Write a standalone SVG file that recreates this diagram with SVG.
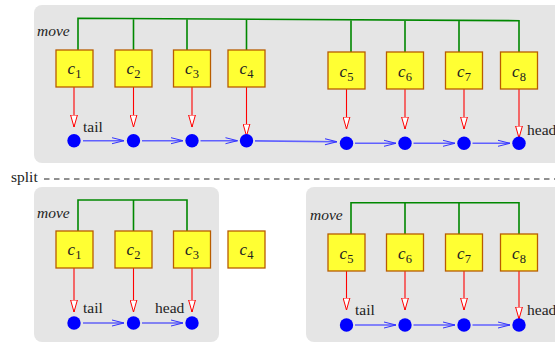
<svg xmlns="http://www.w3.org/2000/svg" width="555" height="344" viewBox="0 0 555 344">
<defs>
<marker id="ra" markerUnits="userSpaceOnUse" viewBox="0 0 13 8" refX="12.5" refY="4" markerWidth="13" markerHeight="8" orient="auto">
<path d="M0.5,0.6 L12.5,4 L0.5,7.4 Z" fill="#fff" stroke="#ff0000" stroke-width="1"/>
</marker>
<marker id="ba" markerUnits="userSpaceOnUse" viewBox="0 0 13 8" refX="12.5" refY="4" markerWidth="13" markerHeight="8" orient="auto">
<path d="M0.5,1 L12.5,4 L0.5,7" fill="none" stroke="#3333ff" stroke-width="1"/>
</marker>
<style>
.panel{fill:#e5e5e5}
.bus{fill:none;stroke:#008800;stroke-width:1.6}
.box{fill:#ffff33;stroke:#b85c00;stroke-width:1.3}
.red{stroke:#ff0000;stroke-width:1.1;fill:none;marker-end:url(#ra)}
.blue{stroke:#6060ff;stroke-width:1.6;fill:none;marker-end:url(#ba)}
.dot{fill:#0000ff}
.t{font-family:"Liberation Serif","Times New Roman","DejaVu Serif",serif;font-size:15.5px;fill:#222}
.it{font-style:italic}
.lbl{font-family:"Liberation Serif","Times New Roman","DejaVu Serif",serif;font-size:17px;fill:#222;text-anchor:middle}
.sub{font-size:12.5px;font-style:normal}
</style>
</defs>

<rect class="panel" x="34" y="5" width="545" height="158" rx="8"/>
<rect class="panel" x="34" y="187" width="185" height="155" rx="8"/>
<rect class="panel" x="306" y="187" width="270" height="155" rx="8"/>

<text class="t it" x="37" y="36">move</text>
<text class="t it" x="37" y="218">move</text>
<text class="t it" x="310" y="220">move</text>
<text class="t" x="11" y="182">split</text>
<line x1="44" y1="179" x2="555" y2="179" stroke="#222" stroke-width="1" stroke-dasharray="5.5,4.5"/>

<g id="connectors">
<path class="bus" d="M78,50 V18.3 L519,20.7 V52 M133.5,18.6 V50 M187,18.9 V50 M246.5,19.2 V50 M351,19.8 V52 M405,20.1 V52 M459,20.4 V52"/>
<path class="bus" d="M78,231 V200 H187 V231 M133.5,200 V231"/>
<path class="bus" d="M351,234 V202.7 H519 V234 M405,202.7 V234 M459,202.7 V234"/>

<line class="red" x1="74" y1="87" x2="74" y2="127"/>
<line class="red" x1="133.5" y1="87" x2="133.5" y2="127"/>
<line class="red" x1="192" y1="87" x2="192" y2="127"/>
<line class="red" x1="246.5" y1="87" x2="246.5" y2="136"/>
<line class="red" x1="346.5" y1="89" x2="346.5" y2="129"/>
<line class="red" x1="405" y1="89" x2="405" y2="129"/>
<line class="red" x1="464" y1="89" x2="464" y2="129"/>
<line class="red" x1="519" y1="89" x2="519" y2="138"/>

<line class="red" x1="74" y1="268" x2="74" y2="312"/>
<line class="red" x1="133.5" y1="268" x2="133.5" y2="312"/>
<line class="red" x1="192" y1="268" x2="192" y2="312"/>

<line class="red" x1="346.5" y1="271" x2="346.5" y2="310"/>
<line class="red" x1="405" y1="271" x2="405" y2="310"/>
<line class="red" x1="464" y1="271" x2="464" y2="310"/>
<line class="red" x1="519" y1="271" x2="519" y2="319"/>

<line class="blue" x1="83" y1="140.7" x2="124" y2="140.7"/>
<line class="blue" x1="142" y1="140.7" x2="183" y2="140.7"/>
<line class="blue" x1="200.5" y1="140.7" x2="237.5" y2="140.7"/>
<line class="blue" x1="255" y1="140.9" x2="337" y2="141.8"/>
<line class="blue" x1="355" y1="143.3" x2="396" y2="143.3"/>
<line class="blue" x1="413.5" y1="143.3" x2="455" y2="143.3"/>
<line class="blue" x1="472.5" y1="143.3" x2="510" y2="143.3"/>

<line class="blue" x1="83" y1="323" x2="124" y2="323" style="stroke:#2020ff;stroke-width:1.2"/>
<line class="blue" x1="142" y1="323" x2="183" y2="323" style="stroke:#2020ff;stroke-width:1.2"/>

<line class="blue" x1="355" y1="325" x2="396" y2="325"/>
<line class="blue" x1="413.5" y1="325" x2="455" y2="325"/>
<line class="blue" x1="472.5" y1="325" x2="510" y2="325"/>
</g>

<text class="t" x="83" y="132">tail</text>
<text class="t" x="527" y="135">head</text>
<text class="t" x="83" y="313">tail</text>
<text class="t" x="155" y="313">head</text>
<text class="t" x="355" y="315">tail</text>
<text class="t" x="527" y="315">head</text>

<g id="top-c1"><rect class="box" x="56" y="50" width="37" height="37"/><text class="lbl" x="74.5" y="74"><tspan class="it">c</tspan><tspan class="sub" dy="4">1</tspan></text></g>
<g id="top-c2"><rect class="box" x="115" y="50" width="37" height="37"/><text class="lbl" x="133.5" y="74"><tspan class="it">c</tspan><tspan class="sub" dy="4">2</tspan></text></g>
<g id="top-c3"><rect class="box" x="173.5" y="50" width="37" height="37"/><text class="lbl" x="192" y="74"><tspan class="it">c</tspan><tspan class="sub" dy="4">3</tspan></text></g>
<g id="top-c4"><rect class="box" x="228" y="50" width="37" height="37"/><text class="lbl" x="246.5" y="74"><tspan class="it">c</tspan><tspan class="sub" dy="4">4</tspan></text></g>
<g id="top-c5"><rect class="box" x="328" y="52" width="37" height="37"/><text class="lbl" x="346.5" y="77"><tspan class="it">c</tspan><tspan class="sub" dy="4">5</tspan></text></g>
<g id="top-c6"><rect class="box" x="386.5" y="52" width="37" height="37"/><text class="lbl" x="405" y="77"><tspan class="it">c</tspan><tspan class="sub" dy="4">6</tspan></text></g>
<g id="top-c7"><rect class="box" x="445.5" y="52" width="37" height="37"/><text class="lbl" x="464" y="77"><tspan class="it">c</tspan><tspan class="sub" dy="4">7</tspan></text></g>
<g id="top-c8"><rect class="box" x="500.5" y="52" width="37" height="37"/><text class="lbl" x="519" y="77"><tspan class="it">c</tspan><tspan class="sub" dy="4">8</tspan></text></g>

<g id="bl-c1"><rect class="box" x="56" y="231" width="37" height="37"/><text class="lbl" x="74.5" y="255"><tspan class="it">c</tspan><tspan class="sub" dy="4">1</tspan></text></g>
<g id="bl-c2"><rect class="box" x="115" y="231" width="37" height="37"/><text class="lbl" x="133.5" y="255"><tspan class="it">c</tspan><tspan class="sub" dy="4">2</tspan></text></g>
<g id="bl-c3"><rect class="box" x="173.5" y="231" width="37" height="37"/><text class="lbl" x="192" y="255"><tspan class="it">c</tspan><tspan class="sub" dy="4">3</tspan></text></g>
<g id="bl-c4"><rect class="box" x="228" y="231" width="37" height="37"/><text class="lbl" x="246.5" y="255"><tspan class="it">c</tspan><tspan class="sub" dy="4">4</tspan></text></g>

<g id="br-c5"><rect class="box" x="328" y="234" width="37" height="37"/><text class="lbl" x="346.5" y="259"><tspan class="it">c</tspan><tspan class="sub" dy="4">5</tspan></text></g>
<g id="br-c6"><rect class="box" x="386.5" y="234" width="37" height="37"/><text class="lbl" x="405" y="259"><tspan class="it">c</tspan><tspan class="sub" dy="4">6</tspan></text></g>
<g id="br-c7"><rect class="box" x="445.5" y="234" width="37" height="37"/><text class="lbl" x="464" y="259"><tspan class="it">c</tspan><tspan class="sub" dy="4">7</tspan></text></g>
<g id="br-c8"><rect class="box" x="500.5" y="234" width="37" height="37"/><text class="lbl" x="519" y="259"><tspan class="it">c</tspan><tspan class="sub" dy="4">8</tspan></text></g>

<g id="top-n1"><circle class="dot" cx="74" cy="140.7" r="6.7"/></g>
<g id="top-n2"><circle class="dot" cx="133.5" cy="140.7" r="6.7"/></g>
<g id="top-n3"><circle class="dot" cx="192" cy="140.7" r="6.7"/></g>
<g id="top-n4"><circle class="dot" cx="246.5" cy="140.7" r="6.7"/></g>
<g id="top-n5"><circle class="dot" cx="346.5" cy="143.3" r="6.7"/></g>
<g id="top-n6"><circle class="dot" cx="405" cy="143.3" r="6.7"/></g>
<g id="top-n7"><circle class="dot" cx="464" cy="143.3" r="6.7"/></g>
<g id="top-n8"><circle class="dot" cx="519" cy="143.3" r="6.7"/></g>

<g id="bl-n1"><circle class="dot" cx="74" cy="323" r="6.7"/></g>
<g id="bl-n2"><circle class="dot" cx="133.5" cy="323" r="6.7"/></g>
<g id="bl-n3"><circle class="dot" cx="192" cy="323" r="6.7"/></g>

<g id="br-n5"><circle class="dot" cx="346.5" cy="325" r="6.7"/></g>
<g id="br-n6"><circle class="dot" cx="405" cy="325" r="6.7"/></g>
<g id="br-n7"><circle class="dot" cx="464" cy="325" r="6.7"/></g>
<g id="br-n8"><circle class="dot" cx="519" cy="325" r="6.7"/></g>
</svg>
